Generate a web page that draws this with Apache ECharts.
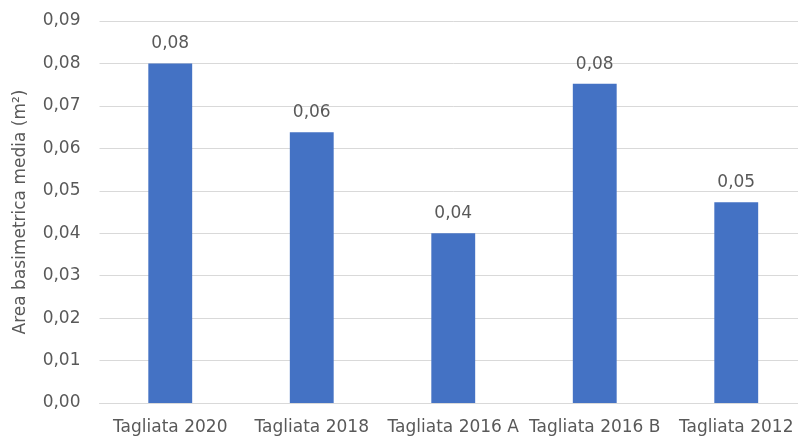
<!DOCTYPE html>
<html>
<head>
<meta charset="utf-8">
<script src="https://cdn.jsdelivr.net/npm/echarts@6/dist/echarts.min.js"></script>
<style>
  html, body { margin: 0; padding: 0; background: #fff; overflow: hidden; }
  /* the plot area runs slightly past the right edge of the window */
  #chart { width: 807px; height: 436px; }
</style>
</head>
<body>
<div id="chart"></div>
<script>
// Mean basal area per cutting block
const categories = ['Tagliata 2020', 'Tagliata 2018', 'Tagliata 2016 A', 'Tagliata 2016 B', 'Tagliata 2012'];
const basalArea = [0.080, 0.0638, 0.040, 0.0752, 0.0473];
const yTicks = { min: 0, max: 0.09, interval: 0.01 };

const FONT = '"DejaVu Sans", "Open Sans", sans-serif';
const TEXT = '#595959';
// two decimals, comma as decimal separator
const toComma = v => (Math.round(v * 100) / 100).toFixed(2).replace('.', ',');

const chart = echarts.init(document.getElementById('chart'), null, { renderer: 'canvas' });
chart.setOption({
  animation: false,
  backgroundColor: '#ffffff',
  grid: { left: 99.5, top: 21, right: 0, bottom: 33, containLabel: false },
  xAxis: {
    type: 'category',
    data: categories,
    axisLine: { lineStyle: { color: '#d9d9d9', width: 1 } },
    axisTick: { show: false },
    axisLabel: { color: TEXT, fontFamily: FONT, fontSize: 17, margin: 16, interval: 0 }
  },
  yAxis: {
    type: 'value',
    min: yTicks.min,
    max: yTicks.max,
    interval: yTicks.interval,
    name: 'Area basimetrica media (m²)',
    nameLocation: 'middle',
    nameGap: 70,
    nameTextStyle: { color: TEXT, fontFamily: FONT, fontSize: 17 },
    axisLine: { show: false },
    axisTick: { show: false },
    splitLine: { lineStyle: { color: '#d9d9d9', width: 1 } },
    axisLabel: { color: TEXT, fontFamily: FONT, fontSize: 17, margin: 19, formatter: toComma }
  },
  series: [{
    type: 'bar',
    data: basalArea,
    barWidth: '31%',
    itemStyle: { color: '#4472C4' },
    label: {
      show: true,
      position: 'top',
      distance: 11,
      color: TEXT,
      fontFamily: FONT,
      fontSize: 17,
      formatter: p => toComma(p.value)
    }
  }]
});
</script>
</body>
</html>
